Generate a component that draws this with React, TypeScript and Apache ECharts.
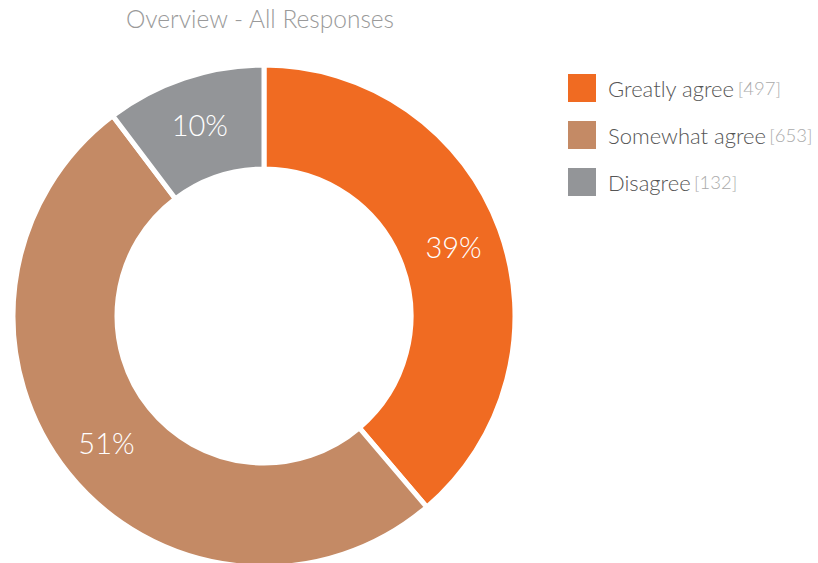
import React, { useEffect, useRef } from "react";
import * as echarts from "echarts";

const categories = ["Greatly agree", "Somewhat agree", "Disagree"];
const counts = [497, 653, 132];
const colors = ["#F06B22", "#C48A65", "#939598"];
const titleText = "Overview - All Responses";

export default function App() {
  const ref = useRef<HTMLDivElement>(null);
  useEffect(() => {
    if (!ref.current) return;
    const chart = echarts.init(ref.current, null, { renderer: "svg" });
    const total = counts.reduce((a, b) => a + b, 0);
    chart.setOption({
      animation: false,
      color: colors,
      title: {
        text: titleText,
        left: 260,
        textAlign: "center",
        top: 6,
        padding: 0,
        textStyle: { fontFamily: "Lato", fontWeight: 300, fontSize: 24.5, color: "#9a9a9a" },
      },
      legend: {
        orient: "vertical",
        left: 566,
        top: 72,
        padding: 0,
        itemWidth: 30,
        itemHeight: 30,
        itemGap: 15,
        icon: "rect",
        data: categories,
        formatter: (name: string) => {
          const i = categories.indexOf(name);
          return `{n|${name}} {v|[${counts[i]}]}`;
        },
        textStyle: {
          rich: {
            n: { fontFamily: "Lato", fontSize: 22, color: "#555", fontWeight: 300, padding: [0, 0, 0, 6] },
            v: { fontFamily: "Lato", fontSize: 18.5, color: "#aaa", fontWeight: 300 },
          },
        },
      },
      series: [
        {
          type: "pie",
          center: [264, 316],
          radius: [147, 251],
          startAngle: 90,
          clockwise: true,
          itemStyle: { borderColor: "#fff", borderWidth: 5 },
          label: {
            position: "inside",
            color: "#fff",
            fontFamily: "Lato",
            fontWeight: 300,
            fontSize: 29,
            formatter: (p: any) => `${Math.round((p.value / total) * 100)}%`,
          },
          labelLine: { show: false },
          emphasis: { disabled: true },
          data: categories.map((c, i) => ({ name: c, value: counts[i] })),
        },
      ],
    });
    return () => chart.dispose();
  }, []);
  return (
    <div
      ref={ref}
      style={{ position: "fixed", left: 0, top: 0, width: 818, height: 563, background: "#fff" }}
    />
  );
}
